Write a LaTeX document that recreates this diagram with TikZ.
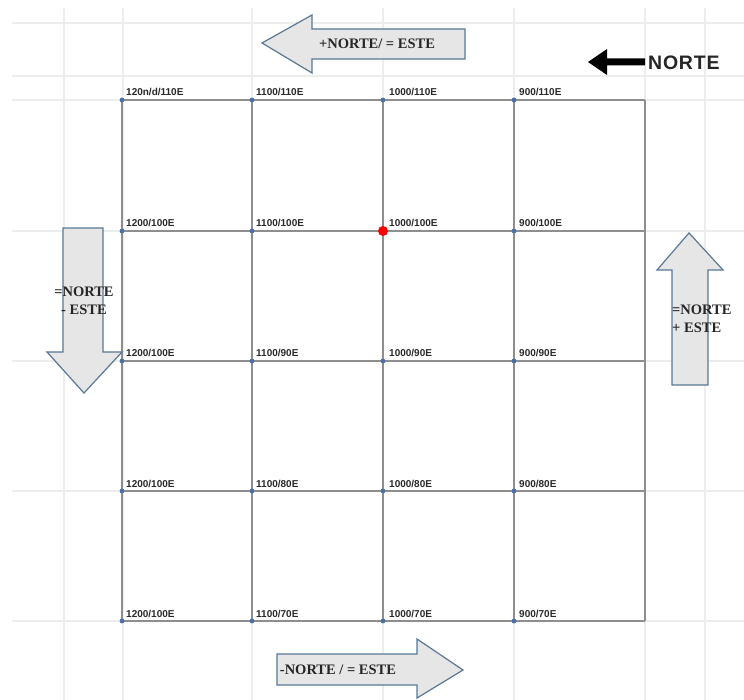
\documentclass[tikz,border=0pt]{standalone}
\usepackage{fontspec}
\setmainfont{Liberation Serif}
\newfontfamily\arialfam{Liberation Sans}
\newfontfamily\nortefam[LetterSpace=4]{Liberation Sans}
\definecolor{bgline}{HTML}{EDEDED}
\definecolor{gridline}{HTML}{8E8E8E}
\definecolor{arrowfill}{HTML}{E6E6E6}
\definecolor{arrowedge}{HTML}{5A7896}
\definecolor{dotblue}{HTML}{4A70A8}
\definecolor{labeltext}{HTML}{2A2A2A}
\tikzset{
  bgrule/.style={bgline,line width=1.5pt},
  gridrule/.style={gridline,line width=1.5pt},
  blockarrow/.style={fill=arrowfill,draw=arrowedge,line width=1.2pt,line join=miter},
  arrowtext/.style={font=\bfseries\fontsize{14.5}{18}\selectfont,inner sep=0pt,text=black!85},
  ptlabel/.style={font=\arialfam\bfseries\fontsize{10}{11}\selectfont,inner sep=0pt,anchor=base west,text=labeltext},
  bluedot/.style={fill=dotblue,draw=none},
}
\begin{document}
\begin{tikzpicture}[x=1pt,y=-1pt]
\useasboundingbox (0,0) rectangle (744,700);
\fill[white] (0,0) rectangle (744,700);
% spreadsheet background lines
\foreach \yy in {23,76,100,231,361,491,621} \draw[bgrule] (12,\yy) -- (744,\yy);
\foreach \xx in {64,123,252,383,514,645,705} \draw[bgrule] (\xx,8) -- (\xx,700);
% grid points
\foreach \c/\xx in {1/122,2/252,3/383,4/514,5/645}
  \foreach \r/\yy in {1/100,2/231,3/361,4/491,5/621}
    \coordinate (p\r\c) at (\xx,\yy);
% main grid
\foreach \r in {1,...,5} \draw[gridrule] (p\r1) -- (p\r5);
\foreach \c in {1,...,5} \draw[gridrule] (p1\c) -- (p5\c);
% dots
\foreach \r in {1,...,5}
  \foreach \c in {1,...,4}
    \fill[bluedot] (p\r\c) circle (2.4);
\fill[red] (p23) circle (5);
% labels
\foreach \r/\ta/\tb/\tc/\td in {
  1/120n\slash d\slash 110E/1100\slash 110E/1000\slash 110E/900\slash 110E,
  2/1200\slash 100E/1100\slash 100E/1000\slash 100E/900\slash 100E,
  3/1200\slash 100E/1100\slash 90E/1000\slash 90E/900\slash 90E,
  4/1200\slash 100E/1100\slash 80E/1000\slash 80E/900\slash 80E,
  5/1200\slash 100E/1100\slash 70E/1000\slash 70E/900\slash 70E}{
  \node[ptlabel] (lab\r1) at ([shift={(4,-4)}]p\r1) {\ta};
  \node[ptlabel] (lab\r2) at ([shift={(4,-4)}]p\r2) {\tb};
  \node[ptlabel] (lab\r3) at ([shift={(6,-4)}]p\r3) {\tc};
  \node[ptlabel] (lab\r4) at ([shift={(5,-4)}]p\r4) {\td};
}
% top arrow (left)
\draw[blockarrow] (262,43) -- (312,15) -- (312,29) -- (465,29) -- (465,59) -- (312,59) -- (312,73) -- cycle;
\node[arrowtext] (toptext) at (377,44) {+NORTE/ = ESTE};
% north indicator
\fill[black] (588,62) -- (607,49) -- (607,58.5) -- (645,58.5) -- (645,65.5) -- (607,65.5) -- (607,75) -- cycle;
\node[font=\nortefam\bfseries\fontsize{19.5}{20}\selectfont,anchor=west,inner sep=0pt,text=black!85] (norte) at (648,63) {NORTE};
% left arrow (down)
\draw[blockarrow] (63,228) -- (103,228) -- (103,352) -- (122,352) -- (84,393) -- (47,352) -- (63,352) -- cycle;
\node[arrowtext,align=center] (lefttext) at (84,301) {=NORTE\\- ESTE};
% right arrow (up)
\draw[blockarrow] (689,233) -- (723,270) -- (708,270) -- (708,385) -- (672,385) -- (672,270) -- (657,270) -- cycle;
\node[arrowtext,align=left,anchor=west] (righttext) at (672,319) {=NORTE\\+ ESTE};
% bottom arrow (right)
\draw[blockarrow] (277,654) -- (417,654) -- (417,639) -- (463,670) -- (417,698) -- (417,685) -- (277,685) -- cycle;
\node[arrowtext] (bottomtext) at (338,670) {-NORTE / = ESTE};
\end{tikzpicture}
\end{document}
